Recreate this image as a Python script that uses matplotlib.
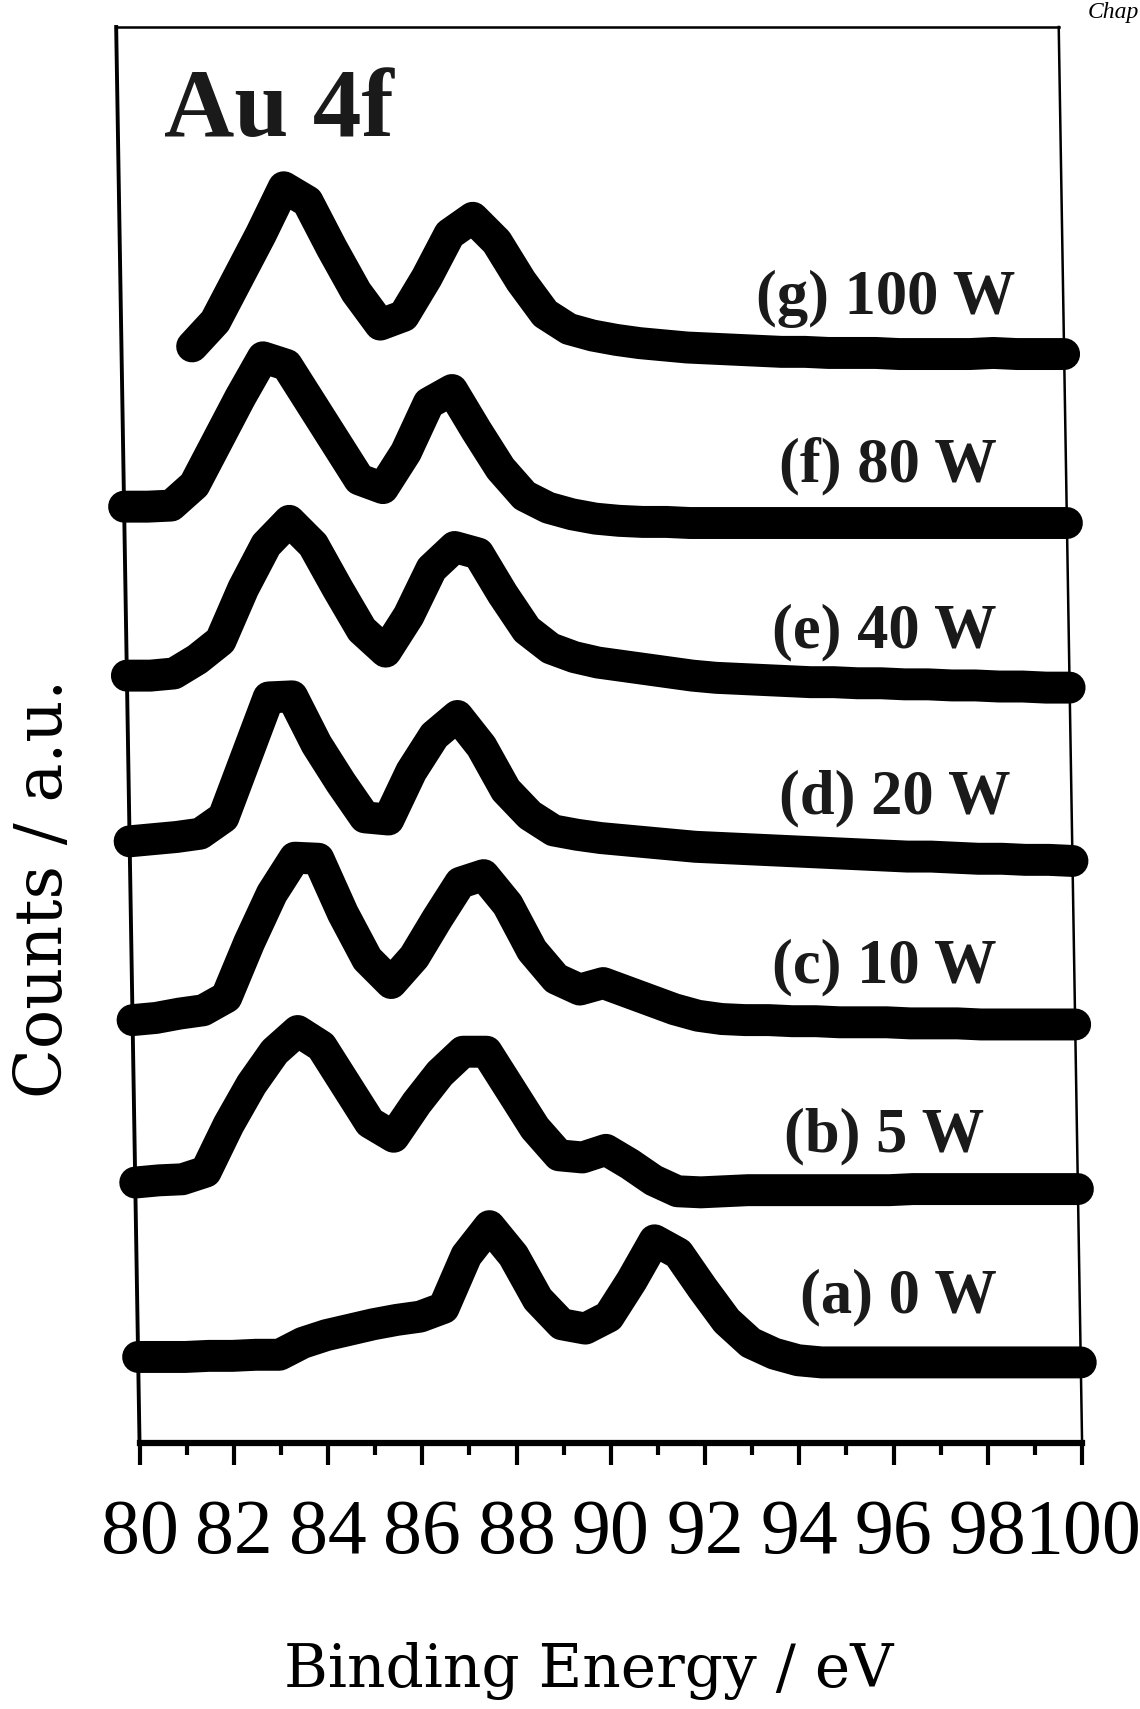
import numpy as np
import matplotlib
matplotlib.use('Agg')
import matplotlib.pyplot as plt
from matplotlib.transforms import Affine2D
from matplotlib.ticker import MultipleLocator

plt.rcParams['font.family'] = ['Liberation Serif', 'DejaVu Serif']

# binding energy grid (eV)
energy = np.arange(80.0, 100.01, 0.5)
energy_g = np.arange(81.5, 100.01, 0.5)

# stacked Au 4f spectra, counts in a.u. (offsets already included)
spec_a = [79, 79, 79, 80, 80, 81, 81, 92, 99, 104, 109, 113, 116, 124, 172, 199, 172, 132, 109, 105,
          116, 149, 186, 174, 142, 112, 92, 82, 76,
          74, 74, 74, 74, 74, 74, 74, 74, 74, 74, 74, 74]
spec_b = [239, 241, 242, 249, 292, 329, 359, 378, 364, 329, 294, 281, 312, 339, 359, 359, 324, 289, 264, 262,
          269, 256, 241, 231, 230,
          231, 232, 232, 232, 232, 232, 232, 232, 233, 233, 233, 233, 233, 233, 233, 233]
spec_c = [388, 390, 394, 397, 409, 459, 504, 537, 536, 486, 444, 422, 446, 481, 514, 521, 494, 452, 426, 416,
          422, 414, 406, 398, 392, 389,
          388, 388, 387, 387, 386, 386, 386, 385, 385, 385, 384, 384, 384, 384, 384]
spec_d = [552, 554, 556, 559, 574, 629, 684, 685, 641, 606, 574, 572, 616, 649, 667, 639, 599, 576, 562, 558,
          555, 553, 551, 549, 547,
          546, 545, 544, 543, 542, 541, 540, 539, 538, 538, 537, 536, 536, 535, 535, 534]
spec_e = [704, 704, 706, 719, 736, 784, 824, 846, 824, 784, 746, 726, 759, 802, 822, 816, 779, 746, 729, 721,
          716, 713, 710, 707, 704,
          702, 701, 700, 699, 698, 698, 697, 697, 696, 696, 695, 695, 694, 694, 693, 693]
spec_f = [859, 859, 860, 879, 919, 959, 996, 989, 954, 919, 884, 876, 909, 954, 966, 929, 894, 869, 858, 852,
          848, 846,
          845, 845, 844, 844, 844, 844, 844, 844, 844, 844, 844, 844, 844, 844, 844, 844, 844, 844, 844]
spec_g = [1006, 1029, 1069, 1109, 1152, 1139, 1096, 1056, 1026, 1034, 1069, 1109, 1124, 1102, 1066, 1036,
          1022, 1016, 1012, 1009, 1007, 1005, 1004, 1003, 1002, 1001,
          1001, 1000, 1000, 1000, 999, 999, 999, 999, 1000, 999, 999, 999]

labels = ['(a) 0 W', '(b) 5 W', '(c) 10 W', '(d) 20 W', '(e) 40 W', '(f) 80 W', '(g) 100 W']
label_x = [98.25, 98.03, 98.36, 98.70, 98.48, 98.54, 98.99]
label_y = [134, 281, 436, 591, 744, 896, 1050]

xticks = list(range(80, 101, 2))

fig = plt.figure(figsize=(11.4, 17.09), dpi=100)
ax = fig.add_axes([0.1224, 0.1556, 0.8268, 0.8286])
ax.set_xlim(80, 100)
ax.set_ylim(0, 1299)

# the whole frame leans a little to the left going up
k = 0.0165
y0 = 0.1556 * 17.09 * 100
lean = Affine2D(np.array([[1.0, -k, k * y0], [0.0, 1.0, 0.0], [0.0, 0.0, 1.0]]))
data_tr = ax.transData + lean
axes_tr = ax.transAxes + lean

spectra = [(energy, spec_a), (energy, spec_b), (energy, spec_c), (energy, spec_d),
           (energy, spec_e), (energy, spec_f), (energy_g, spec_g)]
for ex, cnt in spectra:
    ax.plot(ex, cnt, color='black', lw=23, solid_capstyle='round', solid_joinstyle='round',
            transform=data_tr, clip_on=False)

for s, lx, ly in zip(labels, label_x, label_y):
    ax.text(lx, ly, s, ha='right', va='center', fontsize=45, fontweight='bold',
            color='#1a1a1a', transform=data_tr)

ax.text(0.049, 0.923, 'Au 4f', ha='left', va='baseline', fontsize=70, fontweight='bold',
        color='#1a1a1a', transform=axes_tr)

# frame: bottom spine stays, the other three follow the lean
for s in ['left', 'right', 'top']:
    ax.spines[s].set_visible(False)
ax.spines['bottom'].set_linewidth(4.5)
ax.plot([0, 0], [0, 1], color='black', lw=2.8, transform=axes_tr, clip_on=False)
ax.plot([1, 1], [0, 1], color='black', lw=1.8, transform=axes_tr, clip_on=False)
ax.plot([0, 1], [1, 1], color='black', lw=1.8, transform=axes_tr, clip_on=False)

ax.set_xticks(xticks)
ax.xaxis.set_minor_locator(MultipleLocator(1))
ax.set_yticks([])
ax.tick_params(axis='x', which='major', direction='out', length=16, width=3, pad=24, labelsize=56)
ax.tick_params(axis='x', which='minor', direction='out', length=8.5, width=3)

fig.text(0.5163, 0.0129, 'Binding Energy / eV', ha='center', va='baseline', fontsize=43,
         family='DejaVu Serif')
fig.text(0.0385, 0.4804, 'Counts / a.u.', rotation=90, ha='center', va='center', fontsize=47,
         family='DejaVu Serif')
fig.text(0.999, 0.9924, 'Chap', ha='right', va='center', fontsize=17, style='italic')

fig.savefig('out.png', dpi=100)
